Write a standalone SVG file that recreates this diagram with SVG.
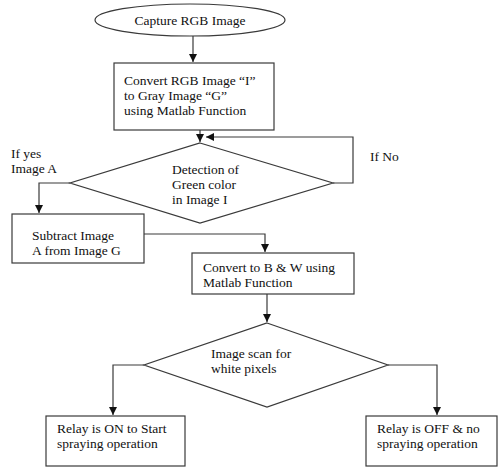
<svg xmlns="http://www.w3.org/2000/svg" width="498" height="467" viewBox="0 0 498 467">
<style>
.s{fill:#fff;stroke:#3a3a3a;stroke-width:1.2}
.c{fill:none;stroke:#3a3a3a;stroke-width:1.2}
text{font-family:"Liberation Serif","Times New Roman",serif;font-size:13.5px;fill:#111}
</style>
<defs>
<marker id="a" markerUnits="userSpaceOnUse" markerWidth="9" markerHeight="9" refX="8" refY="4" orient="auto">
<path d="M0,0 L8,4 L0,8 z" fill="#111"/>
</marker>
</defs>
<rect width="498" height="467" fill="#fff"/>
<g id="connectors">
<path class="c" d="M193,36 V62" marker-end="url(#a)"/>
<path class="c" d="M200,130 V142" marker-end="url(#a)"/>
<path class="c" d="M333,183 H353 V137 H206" marker-end="url(#a)"/>
<path class="c" d="M70,183 H39 V213" marker-end="url(#a)"/>
<path class="c" d="M144,234 H265 V252" marker-end="url(#a)"/>
<path class="c" d="M267,294 V322" marker-end="url(#a)"/>
<path class="c" d="M144,365 H113 V415" marker-end="url(#a)"/>
<path class="c" d="M388,365 H437 V415" marker-end="url(#a)"/>
</g>
<g id="start">
<ellipse class="s" cx="190" cy="20" rx="95" ry="16"/>
<text x="190" y="25" text-anchor="middle">Capture RGB Image</text>
</g>
<g id="convert-gray">
<rect class="s" x="114" y="63" width="160" height="67"/>
<text x="124" y="85">Convert RGB Image “I”</text>
<text x="124" y="100">to Gray Image “G”</text>
<text x="124" y="115">using Matlab Function</text>
</g>
<g id="detect-green">
<polygon class="s" points="200,143 333,183 200,223 70,183"/>
<text x="172" y="174">Detection of</text>
<text x="172" y="189">Green color</text>
<text x="172" y="204">in Image I</text>
</g>
<g id="label-yes">
<text x="11" y="158">If yes</text>
<text x="11" y="173">Image A</text>
</g>
<g id="label-no">
<text x="370" y="161">If No</text>
</g>
<g id="subtract">
<rect class="s" x="12" y="214" width="132" height="49"/>
<text x="32" y="240">Subtract Image</text>
<text x="32" y="255">A from Image G</text>
</g>
<g id="convert-bw">
<rect class="s" x="192" y="253" width="162" height="41"/>
<text x="203" y="272">Convert to B &amp; W using</text>
<text x="203" y="287">Matlab Function</text>
</g>
<g id="scan">
<polygon class="s" points="267,323 388,365 267,407 144,365"/>
<text x="211" y="358">Image scan for</text>
<text x="211" y="373">white pixels</text>
</g>
<g id="relay-on">
<rect class="s" x="46" y="416" width="139" height="50"/>
<text x="57" y="433">Relay is ON to Start</text>
<text x="57" y="448">spraying operation</text>
</g>
<g id="relay-off">
<rect class="s" x="366" y="416" width="131" height="50"/>
<text x="377" y="433">Relay is OFF &amp; no</text>
<text x="377" y="448">spraying operation</text>
</g>
</svg>
